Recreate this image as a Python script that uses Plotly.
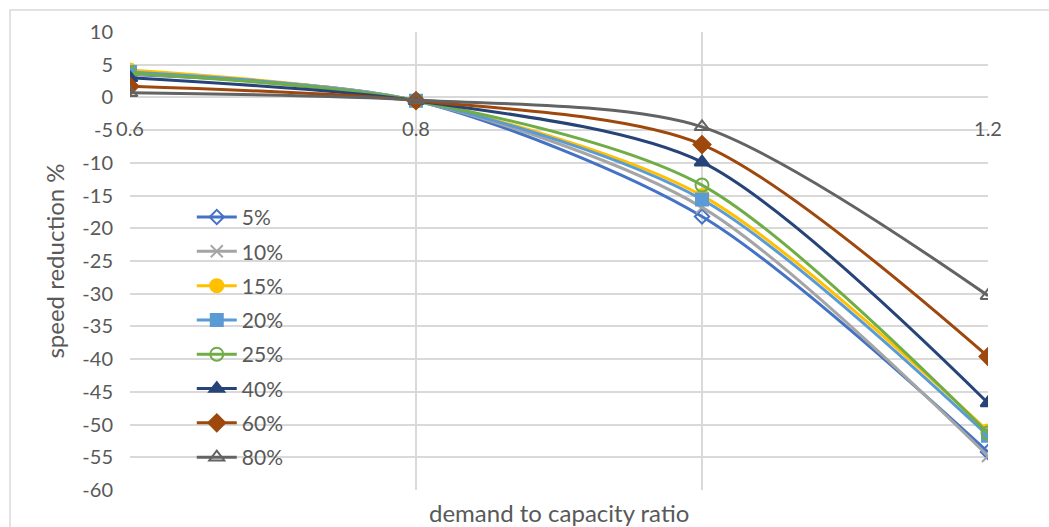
import plotly.graph_objects as go

# demand-to-capacity ratios on the horizontal axis
ratios = [0.6, 0.8, 1.0, 1.2]
x_tick_text = ["0.6", "0.8", "", "1.2"]

# vertical axis ticks (hyphen-minus labels)
y_ticks = list(range(10, -65, -5))
y_tick_text = [str(v) for v in y_ticks]

# speed reduction (%) per share series
share_labels = ["5%", "10%", "15%", "20%", "25%", "40%", "60%", "80%"]
s05 = [3.5, -0.5, -18.2, -54.2]
s10 = [3.6, -0.5, -16.8, -54.8]
s15 = [4.2, -0.5, -15.0, -51.0]
s20 = [3.9, -0.5, -15.6, -51.7]
s25 = [3.7, -0.5, -13.4, -51.3]
s40 = [3.0, -0.5, -9.9, -46.7]
s60 = [1.7, -0.5, -7.2, -39.6]
s80 = [0.7, -0.4, -4.5, -30.3]
series_values = [s05, s10, s15, s20, s25, s40, s60, s80]

colors = ["#4472C4", "#A5A5A5", "#FFC000", "#5B9BD5",
          "#70AD47", "#264478", "#9E480E", "#636363"]
symbols = ["diamond-open", "x-thin-open", "circle", "square",
           "circle-open", "triangle-up", "diamond", "triangle-up-open"]
sizes = [11, 12, 13, 12, 13, 13, 13, 13]

FONT = "Lato, 'Open Sans', sans-serif"
TXT = "#595959"

fig = go.Figure()
for i, (name, vals) in enumerate(zip(share_labels, series_values)):
    fig.add_trace(go.Scatter(
        x=ratios, y=vals, name=name, mode="lines+markers",
        legendgroup=f"g{i}",
        line=dict(color=colors[i], width=3, shape="spline", smoothing=0.8),
        marker=dict(symbol=symbols[i], size=sizes[i], color=colors[i],
                    line=dict(color=colors[i], width=2)),
    ))

fig.update_layout(
    width=1049, height=527,
    margin=dict(l=130, r=61, t=32, b=37),
    paper_bgcolor="white", plot_bgcolor="white",
    font=dict(family=FONT, size=20, color=TXT),
    showlegend=True,
    legend=dict(
        x=0.072, y=0.64, xanchor="left", yanchor="top",
        bgcolor="rgba(255,255,255,0)",
        font=dict(size=21, color=TXT),
        tracegroupgap=4,
        itemwidth=40,
    ),
    xaxis=dict(
        range=[0.6, 1.2],
        tickvals=ratios, ticktext=x_tick_text,
        showgrid=True, gridcolor="#D9D9D9", gridwidth=1.5,
        zeroline=False, showline=False, ticks="",
        anchor="free", position=60 / 70,
        ticklabelstandoff=18,
        tickfont=dict(size=20, color=TXT),
    ),
    yaxis=dict(
        range=[-60, 10], tickvals=y_ticks, ticktext=y_tick_text,
        showgrid=True, gridcolor="#D9D9D9", gridwidth=1.5,
        zeroline=False, showline=False, ticks="",
        ticklabelstandoff=16,
        tickfont=dict(size=20, color=TXT),
        title=dict(text="speed reduction %", font=dict(size=24, color=TXT),
                   standoff=10),
    ),
    annotations=[dict(
        text="demand to capacity ratio", xref="paper", yref="paper",
        x=0.5, y=-22 / 458, xanchor="center", yanchor="middle", showarrow=False,
        font=dict(size=24, color=TXT),
    )],
    shapes=[dict(
        type="rect", xref="paper", yref="paper",
        x0=-120 / 858, x1=1100 / 858, y0=-60 / 458, y1=480 / 458,
        line=dict(color="#D9D9D9", width=1.5), layer="below",
    )],
)

fig.write_html("out.html")
